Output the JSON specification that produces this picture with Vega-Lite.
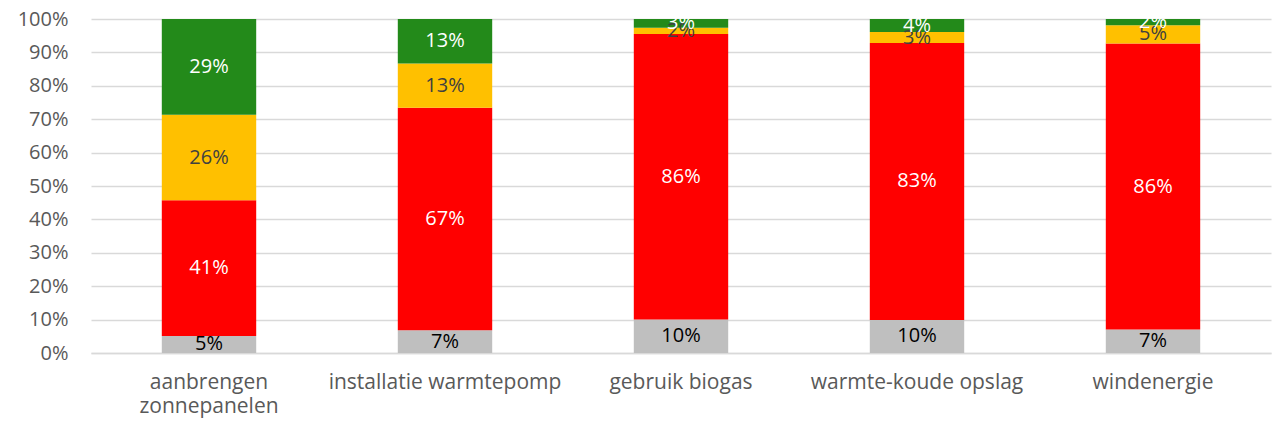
{
  "$schema": "https://vega.github.io/schema/vega-lite/v6.json",
  "width": 1180,
  "height": 334,
  "autosize": {"type": "none"},
  "padding": {"left": 91, "top": 19, "right": 10, "bottom": 75},
  "config": {
    "view": {"stroke": null},
    "font": "Open Sans",
    "axisY": {
      "title": null,
      "format": ".0%",
      "values": [0, 0.1, 0.2, 0.3, 0.4, 0.5, 0.6, 0.7, 0.8, 0.9, 1],
      "labelOverlap": false,
      "labelBound": false,
      "domain": false,
      "ticks": false,
      "labelFontSize": 20,
      "labelColor": "#595959",
      "labelPadding": 23,
      "gridColor": "#d9d9d9",
      "gridWidth": 1.5
    }
  },
  "data": {
    "values": [
      {"category": "aanbrengen zonnepanelen", "answer": "weet niet", "value": 0.051},
      {"category": "aanbrengen zonnepanelen", "answer": "nee", "value": 0.406},
      {"category": "aanbrengen zonnepanelen", "answer": "misschien", "value": 0.256},
      {"category": "aanbrengen zonnepanelen", "answer": "ja", "value": 0.287},
      {"category": "installatie warmtepomp", "answer": "weet niet", "value": 0.068},
      {"category": "installatie warmtepomp", "answer": "nee", "value": 0.666},
      {"category": "installatie warmtepomp", "answer": "misschien", "value": 0.133},
      {"category": "installatie warmtepomp", "answer": "ja", "value": 0.133},
      {"category": "gebruik biogas", "answer": "weet niet", "value": 0.100},
      {"category": "gebruik biogas", "answer": "nee", "value": 0.855},
      {"category": "gebruik biogas", "answer": "misschien", "value": 0.019},
      {"category": "gebruik biogas", "answer": "ja", "value": 0.026},
      {"category": "warmte-koude opslag", "answer": "weet niet", "value": 0.099},
      {"category": "warmte-koude opslag", "answer": "nee", "value": 0.829},
      {"category": "warmte-koude opslag", "answer": "misschien", "value": 0.033},
      {"category": "warmte-koude opslag", "answer": "ja", "value": 0.039},
      {"category": "windenergie", "answer": "weet niet", "value": 0.070},
      {"category": "windenergie", "answer": "nee", "value": 0.857},
      {"category": "windenergie", "answer": "misschien", "value": 0.054},
      {"category": "windenergie", "answer": "ja", "value": 0.019}
    ]
  },
  "transform": [
    {"stack": "value", "groupby": ["category"], "sort": [{"field": "answer", "order": "descending"}], "as": ["y0", "y1"]}
  ],
  "encoding": {
    "x": {
      "field": "category",
      "type": "nominal",
      "sort": null,
      "scale": {"paddingInner": 0.6, "paddingOuter": 0.3},
      "axis": {
        "title": null,
        "labelAngle": 0,
        "labelFontSize": 21,
        "labelColor": "#595959",
        "labelPadding": 18,
        "labelLineHeight": 24,
        "labelBaseline": "top",
        "labelLimit": 0,
        "labelOverlap": false,
        "ticks": false,
        "domainColor": "#d9d9d9",
        "domainWidth": 1.5,
        "labelExpr": "datum.value == 'aanbrengen zonnepanelen' ? ['aanbrengen', 'zonnepanelen'] : datum.label"
      }
    }
  },
  "layer": [
    {
      "mark": {"type": "bar"},
      "encoding": {
        "y": {
          "field": "y0",
          "type": "quantitative",
          "scale": {"domain": [0, 1], "nice": false},
          "title": null
        },
        "y2": {"field": "y1"},
        "color": {
          "field": "answer",
          "type": "nominal",
          "scale": {"domain": ["weet niet", "nee", "misschien", "ja"], "range": ["#bfbfbf", "#ff0000", "#ffc000", "#238a1a"]},
          "legend": null
        }
      }
    },
    {
      "transform": [{"fold": ["y0", "y1"], "as": ["edge", "pos"]}],
      "mark": {"type": "text", "fontSize": 20},
      "encoding": {
        "y": {"aggregate": "mean", "field": "pos", "type": "quantitative", "title": null},
        "text": {"aggregate": "mean", "field": "value", "type": "quantitative", "format": ".0%"},
        "detail": {"field": "answer"},
        "color": {
          "field": "answer",
          "type": "nominal",
          "scale": {"domain": ["weet niet", "nee", "misschien", "ja"], "range": ["#000000", "#ffffff", "#404040", "#ffffff"]},
          "legend": null
        }
      }
    }
  ],
  "resolve": {"scale": {"color": "independent"}}
}
